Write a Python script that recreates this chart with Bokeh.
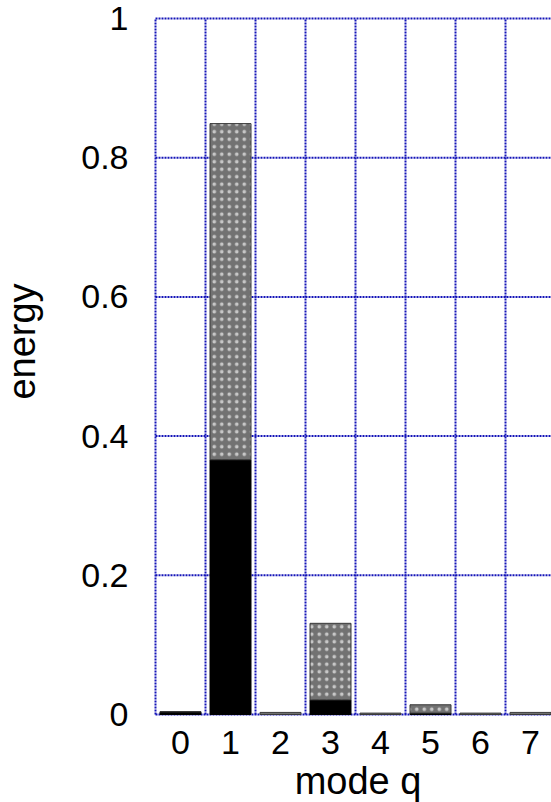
import math

from bokeh.plotting import figure
from bokeh.models import Range1d, ColumnDataSource
from bokeh.core.properties import value
from bokeh.embed import file_html
from bokeh.resources import INLINE

# Energy per mode q: solid part and hatched part stacked on top of it
modes = [0, 1, 2, 3, 4, 5, 6, 7]
solid_energy = [0.004, 0.366, 0.0, 0.021, 0.0, 0.002, 0.0, 0.0]
hatched_energy = [0.0, 0.483, 0.003, 0.110, 0.002, 0.012, 0.002, 0.003]

y_ticks = [0, 0.2, 0.4, 0.6, 0.8, 1]
y_tick_labels = ["0", "0.2", "0.4", "0.6", "0.8", "1"]
x_tick_labels = ["0", "1", "2", "3", "4", "5", "6", "7"]

FONT = value("Liberation Sans")
GRID_BLUE = "#1414b8"

totals = [s + h for s, h in zip(solid_energy, hatched_energy)]

# The frame covers the whole canvas; the region left of x=-0.5 and
# below y=0 holds the tick labels and axis titles.
X_MIN, X_MAX = modes[0] - 0.5, modes[-1] + 0.5
Y_MIN, Y_MAX = y_ticks[0], y_ticks[-1]
p = figure(
    width=551,
    height=802,
    x_range=Range1d(-3.6, 7.42),
    y_range=Range1d(-0.12644, 1.02586),
    output_backend="svg",
    toolbar_location=None,
    min_border=0,
)
p.outline_line_color = None
p.background_fill_color = "white"
p.border_fill_color = "white"
p.axis.visible = False
p.grid.visible = False

# grid: cell boundaries between modes, and the energy levels
bounds = [m - 0.5 for m in modes] + [X_MAX]
p.segment(x0=bounds, y0=[Y_MIN] * len(bounds), x1=bounds, y1=[Y_MAX] * len(bounds),
          line_color=GRID_BLUE, line_width=2, line_dash="2 1", level="underlay")
p.segment(x0=[X_MIN] * len(y_ticks), y0=y_ticks, x1=[X_MAX] * len(y_ticks), y1=y_ticks,
          line_color=GRID_BLUE, line_width=2, line_dash="2 1", level="underlay")

# stacked bars
p.vbar(x=modes, width=0.82, bottom=0, top=solid_energy,
       fill_color="black", line_color="black", line_width=1)
p.vbar(x=modes, width=0.82, bottom=solid_energy, top=totals,
       fill_color="#727272", line_color="#3a3a3a", line_width=1,
       hatch_pattern="dot", hatch_color="white", hatch_scale=7.5,
       hatch_weight=2, hatch_alpha=0.6)

# tick labels
ysrc = ColumnDataSource(dict(x=[X_MIN] * len(y_ticks), y=y_ticks, t=y_tick_labels))
p.text(x="x", y="y", text="t", source=ysrc, x_offset=-27,
       text_font=FONT, text_font_size="34px", text_color="black",
       text_align="right", text_baseline="middle")

xsrc = ColumnDataSource(dict(x=modes, y=[Y_MIN] * len(modes), t=x_tick_labels))
p.text(x="x", y="y", text="t", source=xsrc, y_offset=28,
       text_font=FONT, text_font_size="34px", text_color="black",
       text_align="center", text_baseline="middle")

# axis titles
p.text(x=[3.55], y=[Y_MIN], text=["mode q"], y_offset=67,
       text_font=FONT, text_font_size="38px", text_color="black",
       text_align="center", text_baseline="middle")
p.text(x=[X_MIN], y=[0.5], text=["energy"], x_offset=-134, y_offset=-25,
       angle=math.pi / 2,
       text_font=FONT, text_font_size="38px", text_color="black",
       text_align="center", text_baseline="middle")

open("out.html", "w").write(file_html(p, INLINE))
